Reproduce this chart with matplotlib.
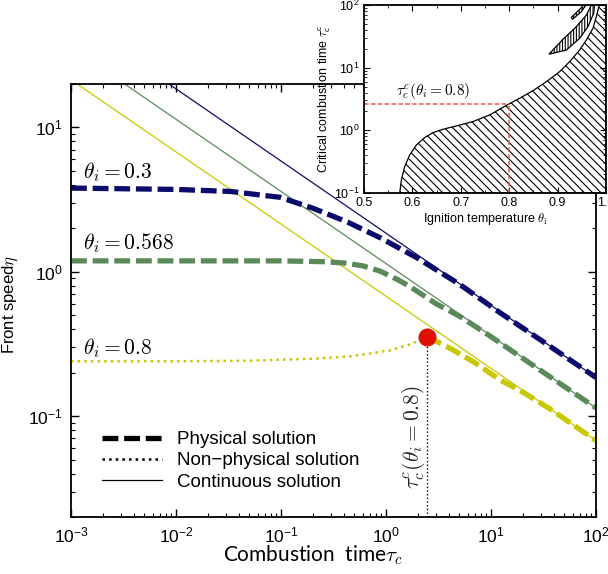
import matplotlib
matplotlib.use('Agg')
import matplotlib.pyplot as plt
from matplotlib.lines import Line2D
from matplotlib.ticker import LogLocator, NullFormatter, MultipleLocator

plt.rcParams['font.family'] = 'Liberation Sans'
plt.rcParams['mathtext.fontset'] = 'custom'
plt.rcParams['mathtext.rm'] = 'Liberation Sans'
plt.rcParams['mathtext.it'] = 'Liberation Sans:italic'
plt.rcParams['hatch.linewidth'] = 0.8

# ---- main plot data ----
tau_ends = [1e-3, 1e2]
cont_03 = [58.5, 0.185]     # continuous solution, theta_i = 0.3
cont_0568 = [36.0, 0.114]   # theta_i = 0.568
cont_08 = [21.4, 0.0677]    # theta_i = 0.8

tau_phys_03 = [1e-3, 0.01, 0.033, 0.098, 0.2, 0.43, 0.88, 1.97, 5, 12.2, 30, 100]
eta_phys_03 = [3.8, 3.72, 3.6, 3.28, 2.76, 2.21, 1.72, 1.25, 0.82, 0.52, 0.335, 0.185]

tau_phys_0568 = [1e-3, 0.1, 0.25, 0.4, 0.6, 0.88, 1.3, 1.69, 3, 5.07, 10, 30, 100]
eta_phys_0568 = [1.19, 1.19, 1.175, 1.15, 1.1, 1.01, 0.88, 0.79, 0.6, 0.49, 0.355, 0.206, 0.114]

tau_phys_08 = [2.45, 4.07, 7, 12.2, 20, 36.5, 100]
eta_phys_08 = [0.356, 0.295, 0.235, 0.178, 0.147, 0.112, 0.0677]

tau_nonphys_08 = [1e-3, 0.01, 0.05, 0.2, 0.45, 1.09, 1.69, 2.1, 2.45]
eta_nonphys_08 = [0.24, 0.24, 0.242, 0.25, 0.259, 0.285, 0.314, 0.335, 0.356]

tau_crit_08 = 2.45
eta_crit_08 = 0.356

# ---- inset data ----
theta_bound = [0.5738, 0.5772, 0.5841, 0.5944, 0.6083, 0.6254, 0.6426, 0.6632,
               0.6909, 0.7252, 0.7597, 0.7872, 0.7983, 0.8217, 0.8492, 0.8769,
               0.9043, 0.925, 0.9457, 0.9595, 0.9731, 0.9800, 0.986]
tauc_bound = [0.1, 0.162, 0.264, 0.405, 0.585, 0.766, 0.92, 1.04,
              1.175, 1.38, 1.76, 2.33, 2.6, 3.25, 4.3, 5.98,
              8.64, 12.5, 19.2, 27.7, 42.5, 65, 100]

slivA_theta = [0.8822, 0.9112, 0.9388, 0.9595, 0.9698, 0.9760, 0.9746, 0.9628, 0.9456, 0.9181]
slivA_tau = [16.4, 28.4, 45.1, 69.2, 100, 100, 73.8, 45.1, 29.4, 19.1]
slivB_theta = [0.9285, 0.9457, 0.954, 0.958, 0.9492, 0.9306]
slivB_tau = [63.6, 85.3, 100, 98.8, 78.2, 59.1]

theta_sel = 0.8
tauc_sel = 2.6

blue = '#0b0b6b'
green = '#5b8a5a'
yellow = '#c8c800'

fig = plt.figure(figsize=(6.08, 5.74), dpi=100)
ax = fig.add_axes([0.1168, 0.0993, 0.8635, 0.7544])

# continuous solutions
ax.plot(tau_ends, cont_03, color=blue, lw=0.9)
ax.plot(tau_ends, cont_0568, color=green, lw=0.9)
ax.plot(tau_ends, cont_08, color=yellow, lw=0.9)

# physical solutions
ax.plot(tau_phys_03, eta_phys_03, color=blue, lw=3.8, dashes=(3, 1.1))
ax.plot(tau_phys_0568, eta_phys_0568, color=green, lw=3.8, dashes=(3, 1.1))
ax.plot(tau_phys_08, eta_phys_08, color=yellow, lw=3.8, dashes=(3, 1.1))

# non-physical
ax.plot(tau_nonphys_08, eta_nonphys_08, color=yellow, lw=1.8, ls=':')

# critical point
ax.plot([tau_crit_08, tau_crit_08], [0.02, eta_crit_08], color='k', lw=1, ls=':')
ax.plot([tau_crit_08], [eta_crit_08], 'o', color='#dd1100', ms=12, zorder=5)

ax.set_xscale('log')
ax.set_yscale('log')
ax.set_xlim(1e-3, 1e2)
ax.set_ylim(0.02, 20)

ax.tick_params(which='both', direction='in', top=True, right=True, labelsize=12.5)
ax.tick_params(which='major', length=6, width=1, pad=6)
ax.tick_params(which='minor', length=3, width=0.8)
ax.xaxis.set_minor_locator(LogLocator(base=10, subs=range(2, 10), numticks=20))
ax.yaxis.set_minor_locator(LogLocator(base=10, subs=range(2, 10), numticks=20))
ax.xaxis.set_minor_formatter(NullFormatter())
ax.yaxis.set_minor_formatter(NullFormatter())
for s in ax.spines.values():
    s.set_linewidth(1.3)

ax.set_xlabel(r'Combustion  time$\tau_c$', fontsize=15, family='Lato',
              math_fontfamily='cm')
ax.xaxis.set_label_coords(0.461, -0.062)
ax.set_ylabel(r'Front speed$\eta$', fontsize=12, math_fontfamily='cm')
ax.yaxis.set_label_coords(-0.097, 0.49)

ax.text(1.3e-3, 4.9, r'$\theta_i = 0.3$', fontsize=15.5, va='center', math_fontfamily='cm')
ax.text(1.3e-3, 1.585, r'$\theta_i = 0.568$', fontsize=15.5, va='center', math_fontfamily='cm')
ax.text(1.3e-3, 0.295, r'$\theta_i = 0.8$', fontsize=15.5, va='center', math_fontfamily='cm')
ax.text(1.81, 0.072, r'$\tau_c^c(\theta_i = 0.8)$', fontsize=15.5, rotation=90,
        ha='center', va='center', color='0.15', math_fontfamily='cm')

handles = [Line2D([], [], color='k', lw=3.8, dashes=(3, 1.1)),
           Line2D([], [], color='k', lw=1.8, ls=':'),
           Line2D([], [], color='k', lw=0.9)]
labels = ['Physical solution', 'Non\u2212physical solution', 'Continuous solution']
ax.legend(handles, labels, loc='upper left', bbox_to_anchor=(0.03, 0.233),
          frameon=False, fontsize=13.5, handlelength=3.2, handletextpad=0.8,
          labelspacing=0.22, borderpad=0.3)

# ---- inset ----
ax2 = fig.add_axes([0.5987, 0.6638, 0.398, 0.3275])
ax2.set_yscale('log')
ax2.set_xlim(0.5, 1.0)
ax2.set_ylim(0.1, 100)

region_theta = theta_bound + [1.0, 1.0]
region_tau = tauc_bound + [100, 0.1]
ax2.fill(region_theta, region_tau, facecolor='white', edgecolor='k',
         hatch='\\\\\\\\', lw=0.9)
ax2.fill(slivA_theta, slivA_tau, facecolor='white', edgecolor='k', hatch='||||||', lw=0.9)
ax2.fill(slivB_theta, slivB_tau, facecolor='white', edgecolor='k', hatch='||||||', lw=0.9)

red = '#ee5a48'
ax2.plot([0.5, theta_sel], [tauc_sel, tauc_sel], color=red, lw=1.1, dashes=(3, 1.5))
ax2.plot([theta_sel, theta_sel], [0.1, tauc_sel], color=red, lw=1.1, dashes=(3, 1.5))
ax2.text(0.566, 2.95, r'$\tau_c^c(\theta_i = 0.8)$', fontsize=11, va='bottom',
         math_fontfamily='cm')

ax2.tick_params(which='both', direction='in', top=True, right=True, labelsize=9)
ax2.tick_params(which='major', length=4, pad=3)
ax2.tick_params(which='minor', length=2)
ax2.xaxis.set_major_locator(MultipleLocator(0.1))
ax2.xaxis.set_minor_locator(MultipleLocator(0.05))
ax2.yaxis.set_minor_locator(LogLocator(base=10, subs=range(2, 10), numticks=20))
ax2.yaxis.set_minor_formatter(NullFormatter())
for s in ax2.spines.values():
    s.set_linewidth(1.3)
ax2.set_xlabel(r'Ignition temperature $\theta_\mathrm{i}$', fontsize=9,
               math_fontfamily='cm', labelpad=1)
ax2.set_ylabel(r'Critical combustion time $\tau_\mathsf{c}^\mathsf{c}$', fontsize=9,
               math_fontfamily='cm', labelpad=1)

fig.savefig('out.png', dpi=100)
